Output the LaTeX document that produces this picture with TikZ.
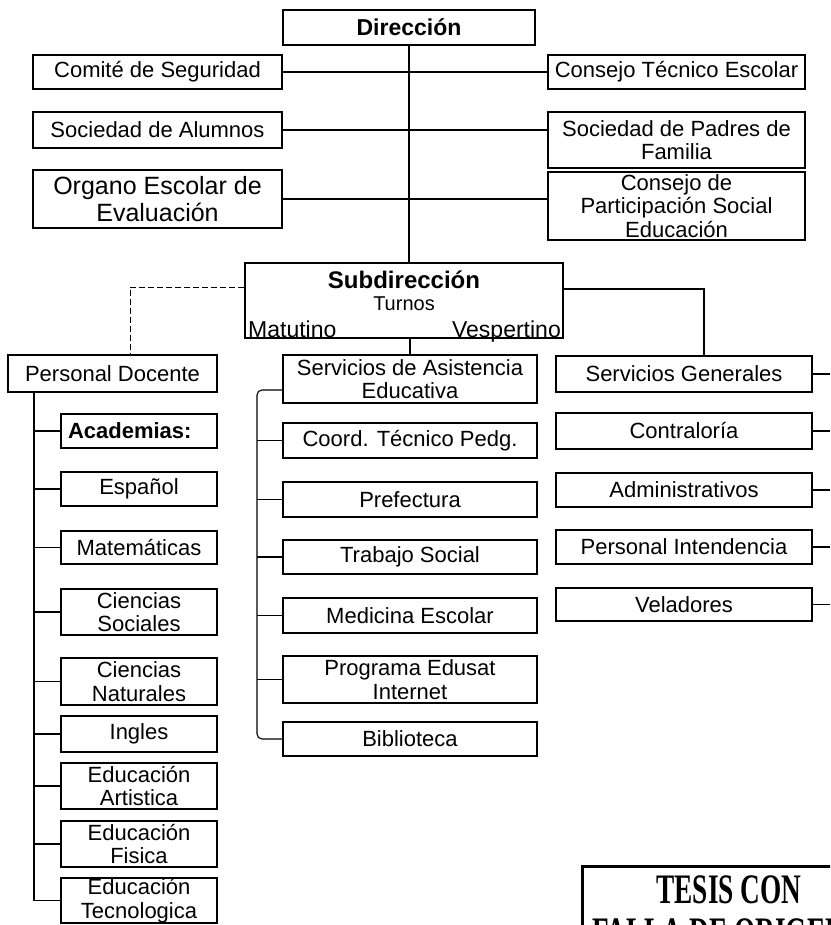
\documentclass[tikz,border=0pt]{standalone}
\usepackage{fontspec}
\setmainfont{Liberation Sans}
\newfontfamily\stampfont[FakeStretch=0.65]{Liberation Serif}
\usetikzlibrary{calc}
\newcommand\fsN{\fontsize{22}{23.5}\selectfont}
\newcommand\fsL{\fontsize{25}{27}\selectfont}
\begin{document}
\begin{tikzpicture}[x=1pt,y=-1pt,
  box/.style={draw, line width=1.1pt, inner sep=0pt, align=center, font=\fsN},
  bx/.style n args={2}{box, minimum width=#1pt, minimum height=#2pt},
  conn/.style={line width=1.1pt},
  faint/.style={line width=0.9pt, dash pattern=on 6pt off 3pt},
  lbl/.style={inner sep=0pt}]
\useasboundingbox (0,0) rectangle (830,925);
% ---------- top level
\node[bx={252}{35}, font=\fontsize{23}{25}\selectfont\bfseries] (dir) at (409,27.5) {Dirección};
\node[bx={249}{34}] (comite) at (157.5,72) {Comité de Seguridad};
\node[bx={249}{36}] (alumnos) at (157.5,130) {Sociedad de Alumnos};
\node[bx={249}{58}, font=\fsL] (organo) at (157.5,199) {Organo Escolar de\\Evaluación};
\node[bx={257}{34}] (cte) at (676.5,72) {Consejo Técnico Escolar};
\node[bx={257}{56}] (padres) at (676.5,140) {Sociedad de Padres de\\Familia};
\node[bx={257}{68}] (cpart) at (676.5,206) {Consejo de\\Participación Social\\Educación};
% ---------- subdireccion
\node[bx={318}{75}] (sub) at (404,300.5) {};
\node[lbl, font=\fontsize{24}{26}\selectfont\bfseries] (subT) at (404,280) {Subdirección};
\node[lbl, font=\fontsize{20}{22}\selectfont] (turnos) at (404,304) {Turnos};
\node[lbl, font=\fontsize{23}{25}\selectfont, anchor=base west] (mat) at (248,337) {Matutino};
\node[lbl, font=\fontsize{23}{25}\selectfont, anchor=base east] (ves) at (561,337) {Vespertino};
% connectors top
\draw[conn] (dir.south) -- (dir.south |- sub.north);
\draw[conn] (comite.east) -- (cte.west);
\draw[conn] (alumnos.east) -- (alumnos.east -| padres.west);
\draw[conn] (organo.east) -- (organo.east -| cpart.west);
% ---------- second level
\node[bx={209}{37}] (pd) at (112.5,373.5) {Personal Docente};
\node[bx={254}{48}] (sae) at (410,379) {Servicios de Asistencia\\Educativa};
\node[bx={256}{36}] (sg) at (684,374) {Servicios Generales};
\coordinate (lb) at (130,287);
\coordinate (rb) at (704,289);
\draw[faint] (lb -| sub.west) -- (lb) -- (lb |- pd.north);
\draw[conn] (rb -| sub.east) -- (rb) -- (rb |- sg.north);
\draw[conn] (sae.north |- sub.south) -- (sae.north);
% ---------- left column
\node[bx={156}{34}, text width=142pt, align=left, font=\fsN\bfseries] (acad) at (139,431) {Academias:};
\node[bx={156}{34}] (esp) at (139,489) {Español};
\node[bx={156}{33}] (mat2) at (139,547.5) {Matemáticas};
\node[bx={156}{46}] (cs) at (139,612) {Ciencias\\Sociales};
\node[bx={156}{47}] (cn) at (139,681.5) {Ciencias\\Naturales};
\node[bx={156}{36}] (ing) at (139,734) {Ingles};
\node[bx={156}{46}] (ea) at (139,786) {Educación\\Artistica};
\node[bx={156}{46}] (ef) at (139,844) {Educación\\Fisica};
\node[bx={156}{45}] (et) at (139,900.5) {Educación\\Tecnologica};
\coordinate (spL) at (34,392);
\draw[conn] (spL) |- (et.west);
\foreach \n in {acad,esp,mat2,cs,cn,ing,ea,ef}{\draw[conn] (spL |- \n.west) -- (\n.west);}
% ---------- middle column
\node[bx={254}{35}] (coord) at (410,440.5) {Coord. Técnico Pedg.};
\node[bx={254}{35}] (pref) at (410,499.5) {Prefectura};
\node[bx={254}{34}] (ts) at (410,557) {Trabajo Social};
\node[bx={254}{35}] (med) at (410,615.5) {Medicina Escolar};
\node[bx={254}{47}] (prog) at (410,679.5) {Programa Edusat\\Internet};
\node[bx={254}{34}] (bib) at (410,739) {Biblioteca};
\coordinate (spM) at (257,390);
\draw[conn, rounded corners=5pt] (spM -| sae.west) -- (spM) |- (bib.west);
\foreach \n in {coord,pref,ts,med,prog}{\draw[conn] (spM |- \n.west) -- (\n.west);}
% ---------- right column
\node[bx={256}{36}] (contra) at (684,431) {Contraloría};
\node[bx={256}{34}] (adm) at (684,490) {Administrativos};
\node[bx={256}{34}] (pint) at (684,547) {Personal Intendencia};
\node[bx={256}{33}] (vel) at (684,604.5) {Veladores};
\coordinate (edge) at (830,0);
\foreach \n in {sg,contra,adm,pint,vel}{\draw[conn] (\n.east) -- (\n.east -| edge);}
% ---------- stamp
\begin{scope}
\clip (0,0) rectangle (830,925);
\draw[line width=3pt] (582,866) rectangle (850,960);
\node[lbl, font=\stampfont\bfseries\fontsize{42}{44}\selectfont, anchor=base] (tesis1) at (729,903) {TESIS CON};
\node[lbl, font=\stampfont\bfseries\fontsize{42}{44}\selectfont, anchor=base west] (tesis2) at (592,946) {FALLA DE ORIGEN};
\end{scope}
\end{tikzpicture}
\end{document}
